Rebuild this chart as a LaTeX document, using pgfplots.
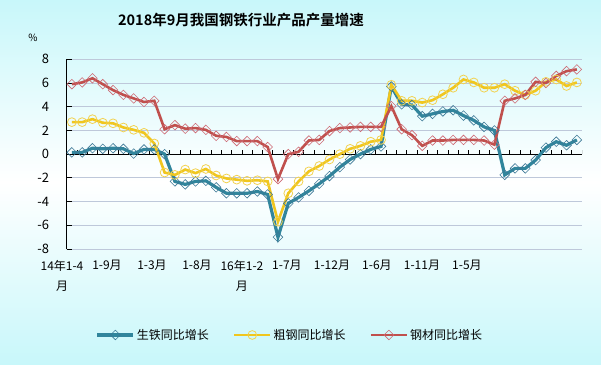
\documentclass[border=0pt]{standalone}
\usepackage{pgfplots}
\usepackage{pgfplotstable}
\pgfplotsset{compat=1.18}
\usepackage{fontspec}
\setmainfont{Noto Sans CJK SC}[BoldFont={Noto Sans CJK SC Bold}]
\definecolor{bgc}{RGB}{200,247,250}
\definecolor{gridc}{RGB}{190,200,218}
\definecolor{cteal}{RGB}{49,133,156}
\definecolor{cteale}{RGB}{60,120,150}
\definecolor{cyel}{RGB}{240,198,30}
\definecolor{cyele}{RGB}{242,210,80}
\definecolor{cred}{RGB}{192,80,77}
\definecolor{crede}{RGB}{205,105,115}

\pgfplotstableread{
i pig crude steel
0 0.15 2.7 5.9
1 0.15 2.7 6.05
2 0.5 2.95 6.4
3 0.45 2.65 5.9
4 0.5 2.6 5.4
5 0.45 2.25 5.0
6 0.05 2.05 4.7
7 0.4 1.8 4.4
8 0.4 0.9 4.5
9 0.0 -1.55 2.1
10 -2.3 -1.75 2.45
11 -2.55 -1.3 2.15
12 -2.3 -1.6 2.2
13 -2.25 -1.25 2.05
14 -2.8 -1.8 1.55
15 -3.3 -2.05 1.45
16 -3.3 -2.15 1.1
17 -3.3 -2.25 1.1
18 -3.15 -2.2 1.1
19 -3.4 -2.3 0.6
20 -7.0 -5.7 -2.1
21 -4.15 -3.3 0.0
22 -3.65 -2.3 0.2
23 -3.1 -1.45 1.15
24 -2.5 -1.0 1.2
25 -1.85 -0.45 1.95
26 -1.1 0.0 2.2
27 -0.45 0.45 2.25
28 0.0 0.7 2.3
29 0.4 1.05 2.3
30 0.65 1.2 2.3
31 5.7 5.85 4.05
32 4.2 4.5 2.1
33 4.15 4.5 1.6
34 3.2 4.35 0.7
35 3.4 4.55 1.15
36 3.6 5.05 1.15
37 3.7 5.6 1.2
38 3.25 6.3 1.2
39 2.85 6.05 1.2
40 2.3 5.6 1.15
41 2.0 5.6 0.8
42 -1.75 5.9 4.5
43 -1.2 5.35 4.7
44 -1.2 5.0 5.0
45 -0.5 5.35 6.1
46 0.55 6.1 6.0
47 1.05 6.3 6.6
48 0.75 5.75 7.0
49 1.2 6.05 7.15
}\data

\begin{document}
\begin{tikzpicture}
\shade[top color=bgc, bottom color=bgc, middle color=white] (-66.7pt,-115pt) rectangle (534.3pt,249pt);
\node[font=\fontsize{14.5}{16}\selectfont\bfseries] at (174.3pt,229pt) {2018年9月我国钢铁行业产品产量增速};
\node[font=\fontsize{10}{12}\selectfont] at (-33.7pt,211pt) {\%};
\begin{axis}[
  at={(0pt,0pt)}, anchor=south west,
  scale only axis, width=515.3pt, height=189.7pt,
  xmin=-0.5, xmax=49.5, ymin=-8, ymax=8,
  separate axis lines,
  axis x line*=bottom, axis y line*=left,
  x axis line style={draw=none},
  y axis line style={black, line width=0.8pt, -},
  xtick={0,4.366,8.732,13.098,17.464,21.83,26.196,30.562,34.928,39.294},
  xticklabels={{14年1-4\\月},1-9月,1-3月,1-8月,{16年1-2\\月},1-7月,1-12月,1-6月,1-11月,1-5月},
  xticklabel style={align=center, font=\fontsize{12}{20}\selectfont, yshift=-8pt, xshift=-9.85pt},
  x tick style={draw=none},
  ytick={-8,-6,...,8},
  yticklabel style={font=\fontsize{13}{14}\selectfont, xshift=-14pt},
  y tick style={black, line width=0.8pt},
  tick align=inside, major tick length=5pt,
  ymajorgrids, y grid style={gridc, line width=0.8pt},
  /pgf/number format/assume math mode=true,
  legend columns=3,
  legend style={draw=none, fill=none, at={(0.4333,-0.4533)}, anchor=center,
    font=\fontsize{12}{14}\selectfont,
    /tikz/every even column/.append style={column sep=22pt}},
  legend image code/.code={\draw[mark repeat=2,mark phase=2,#1] plot coordinates {(0pt,0pt) (18pt,0pt) (36pt,0pt)};},
]
\draw[black, line width=0.8pt] (axis cs:-0.5,0) -- (axis cs:49.5,0);
\pgfplotsinvokeforeach{0,...,49}{\draw[black, line width=0.8pt] (axis cs:#1+0.5,0) -- ++(0pt,4.5pt);}
\addplot[cteal, line width=3.2pt, mark=square, mark size=3.4pt,
  mark options={rotate=45, fill=white, draw=cteale, line width=0.6pt, solid}]
  table[x=i,y=pig] {\data};
\addlegendentry{生铁同比增长}
\addplot[cyel, line width=2.6pt, mark=o, mark size=4.4pt,
  mark options={fill=white, draw=cyele, line width=0.8pt, solid}]
  table[x=i,y=crude] {\data};
\addlegendentry{粗钢同比增长}
\addplot[cred, line width=2.6pt, mark=square, mark size=3.4pt,
  mark options={rotate=45, fill=white, draw=crede, line width=0.6pt, solid}]
  table[x=i,y=steel] {\data};
\addlegendentry{钢材同比增长}
\end{axis}
\pgfresetboundingbox
\useasboundingbox (-66.7pt,-115pt) rectangle (534.3pt,249pt);
\end{tikzpicture}
\end{document}
